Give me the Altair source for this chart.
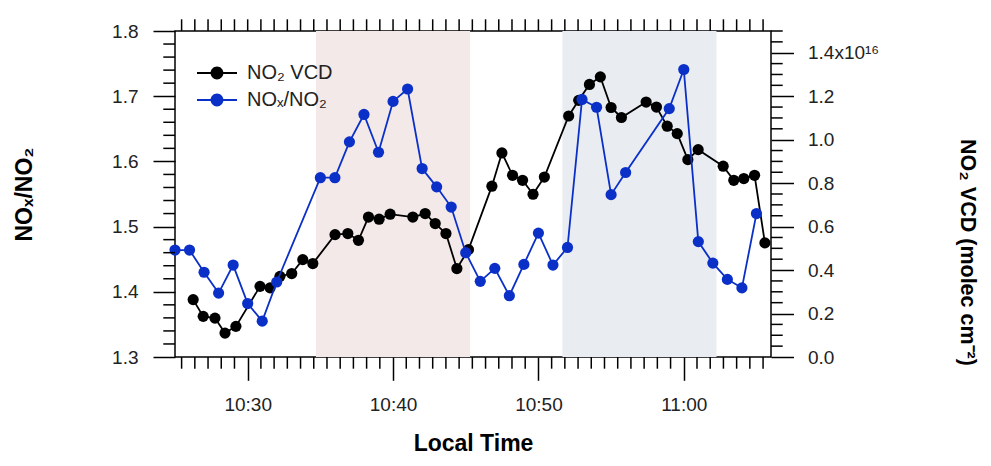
import altair as alt
import pandas as pd

# ---------------- data (time = minutes after 10:00 local time) ----------------
ratio_minutes = [25, 26, 27, 28, 29, 30, 31, 32,
                 35, 36, 37, 38, 39, 40, 41, 42, 43, 44, 45, 46, 47,
                 48, 49, 50, 51, 52, 53, 54, 55, 56,
                 59, 60, 61, 62, 63, 64, 65]
ratio_values = [1.464, 1.464, 1.430, 1.398, 1.441, 1.382, 1.355, 1.415,
                1.575, 1.575, 1.630, 1.672, 1.614, 1.692, 1.711, 1.589, 1.561, 1.530, 1.460, 1.416, 1.436,
                1.394, 1.442, 1.490, 1.441, 1.468, 1.695, 1.683, 1.549, 1.583,
                1.681, 1.741, 1.477, 1.444, 1.419, 1.406, 1.520]

vcd_minutes = [26.25, 26.94, 27.75, 28.44, 29.19,
               30.85, 31.54, 32.22, 33.03, 33.79, 34.48,
               36.01, 36.89, 37.62, 38.31, 39.04, 39.80,
               41.36, 42.21, 42.90, 43.64, 44.39, 45.19,
               46.80, 47.49, 48.22, 48.91, 49.63, 50.41,
               52.08, 52.77, 53.51, 54.26, 55.00, 55.71,
               57.41, 58.12, 58.86, 59.55, 60.28, 60.99,
               62.71, 63.44, 64.13, 64.87, 65.58]
# NO2 VCD in units of 1e16 molec cm^-2
vcd_values = [0.264, 0.187, 0.179, 0.110, 0.141,
              0.325, 0.318, 0.371, 0.384, 0.448, 0.430,
              0.563, 0.568, 0.537, 0.644, 0.634, 0.657,
              0.644, 0.660, 0.614, 0.568, 0.407, 0.494,
              0.786, 0.939, 0.836, 0.813, 0.749, 0.828,
              1.109, 1.181, 1.254, 1.289, 1.148, 1.102,
              1.173, 1.150, 1.062, 1.028, 0.908, 0.954,
              0.878, 0.813, 0.821, 0.836, 0.525]

period_names = ["first", "second"]
period_starts = [34.7, 51.65]
period_ends = [45.3, 62.25]

series_names = ["NO\u2082 VCD", "NO\u2093/NO\u2082"]
x_major = [30, 40, 50, 60]
ratio_major = [1.3, 1.4, 1.5, 1.6, 1.7, 1.8]
vcd_major = [0.0, 0.2, 0.4, 0.6, 0.8, 1.0, 1.2, 1.4]

# ---------------- frames ----------------
ratio_df = pd.DataFrame({"t": ratio_minutes, "v": ratio_values, "series": series_names[1]})
vcd_df = pd.DataFrame({"t": vcd_minutes, "v": vcd_values, "series": series_names[0]})
period_df = pd.DataFrame({"period": period_names, "t": period_starts, "end": period_ends})

x_minor = [30 + k * 10 / 11 for k in range(-5, 40) if k % 11 != 0]
x_top = [30 + k * 10 / 11 for k in range(-5, 40)]
ratio_minor = [round(1.3 + 0.02 * k, 2) for k in range(1, 25) if k % 5 != 0]
vcd_minor = [round(0.05 * k, 2) for k in range(0, 31) if k % 4 != 0]

xminor_df = pd.DataFrame({"t": x_minor})
xtop_df = pd.DataFrame({"t": x_top})
rminor_df = pd.DataFrame({"v": ratio_minor})
vminor_df = pd.DataFrame({"v": vcd_minor})

W, H = 596, 326
FONT = "Liberation Sans"
BLACK = "#000000"
BLUE = "#0b30c8"
TICK_W = 1.5
MINOR = 11.7

xscale = alt.Scale(domain=[25, 66], nice=False, zero=False)
rscale = alt.Scale(domain=[1.3, 1.8], nice=False, zero=False)
vscale = alt.Scale(domain=[0, 1.5], nice=False, zero=False)
cscale = alt.Scale(domain=series_names, range=[BLACK, BLUE])

# legend glyph: a short line with a filled dot (unit = sqrt(symbolSize)/2 px)
LEGEND_PATH = ("M-2,-0.1L2,-0.1L2,0.1L-2,0.1Z"
               "M0.64,0A0.64,0.64,0,1,1,-0.64,0A0.64,0.64,0,1,1,0.64,0Z")

x_axis = alt.Axis(
    values=x_major,
    labelExpr="datum.value < 60 ? '10:' + datum.value : '11:00'",
    tickSize=23.3, tickWidth=TICK_W, tickColor=BLACK,
    labelPadding=15, labelFontSize=19, labelColor="#222", labelFont=FONT,
    title="Local Time", titleFontSize=23, titleFontWeight="bold", titleFont=FONT,
    titleX=W / 2, titleY=86, titleAlign="center", titleBaseline="middle", titleColor=BLACK,
    domain=False, grid=False,
)

ratio_axis = alt.Axis(
    orient="left", values=ratio_major, format=".1f",
    tickSize=22, tickWidth=TICK_W, tickColor=BLACK,
    labelPadding=15, labelFontSize=19, labelColor="#222", labelFont=FONT,
    title="NO\u2093/NO\u2082", titleFontSize=23, titleFontWeight="bold", titleFont=FONT,
    titleAngle=270, titleX=-151, titleY=H / 2, titleAlign="center", titleBaseline="middle",
    titleColor=BLACK, domain=False, grid=False,
)

vcd_axis = alt.Axis(
    orient="right", values=vcd_major,
    labelExpr="datum.value > 1.35 ? '1.4x10\u00b9\u2076' : format(datum.value, '.1f')",
    tickSize=22.5, tickWidth=TICK_W, tickColor=BLACK,
    labelPadding=14, labelFontSize=19, labelColor="#222", labelFont=FONT,
    title="NO\u2082 VCD (molec cm\u207b\u00b2)", titleFontSize=21.5, titleFontWeight="bold", titleFont=FONT,
    titleAngle=90, titleX=195, titleY=221, titleAlign="center", titleBaseline="middle",
    titleColor=BLACK, domain=False, grid=False,
)

legend = alt.Legend(
    orient="none", legendX=32, legendY=32, title=None,
    symbolType=LEGEND_PATH, symbolSize=400, symbolStrokeWidth=0, symbolOpacity=1,
    labelFontSize=20, labelFont=FONT, labelColor="#222", labelOffset=20,
    rowPadding=7, padding=0,
)

X = alt.X("t:Q", scale=xscale, axis=x_axis)
Y_VCD = alt.Y("v:Q", scale=vscale, axis=vcd_axis)
Y_RATIO = alt.Y("v:Q", scale=rscale, axis=ratio_axis)
C = alt.Color("series:N", scale=cscale, legend=legend)

# ---------------- right (VCD) group ----------------
shade = alt.Chart(period_df).mark_rect(opacity=1).encode(
    x=X, x2="end:Q",
    y=alt.value(0), y2=alt.value(H),
    fill=alt.Fill("period:N", scale=alt.Scale(domain=period_names, range=["#f3e9e8", "#e9ecf1"]), legend=None),
)
vcd_line = alt.Chart(vcd_df).mark_line(strokeWidth=1.8).encode(x=X, y=Y_VCD, color=C)
vcd_pts = alt.Chart(vcd_df).mark_point(filled=True, size=125, opacity=1).encode(x=X, y=Y_VCD, color=C)
vcd_minor_ticks = alt.Chart(vminor_df).mark_rule(color=BLACK, strokeWidth=TICK_W).encode(
    y=Y_VCD, x=alt.value(W), x2=alt.value(W + MINOR),
)
right_group = alt.layer(shade, vcd_line, vcd_pts, vcd_minor_ticks)

# ---------------- left (ratio) group ----------------
ratio_line = alt.Chart(ratio_df).mark_line(strokeWidth=1.8).encode(x=X, y=Y_RATIO, color=C)
ratio_pts = alt.Chart(ratio_df).mark_point(filled=True, size=125, opacity=1).encode(x=X, y=Y_RATIO, color=C)
ratio_minor_ticks = alt.Chart(rminor_df).mark_rule(color=BLACK, strokeWidth=TICK_W).encode(
    y=Y_RATIO, x=alt.value(-MINOR), x2=alt.value(0),
)
x_minor_ticks = alt.Chart(xminor_df).mark_rule(color=BLACK, strokeWidth=TICK_W).encode(
    x=X, y=alt.value(H), y2=alt.value(H + MINOR),
)
x_top_ticks = alt.Chart(xtop_df).mark_rule(color=BLACK, strokeWidth=TICK_W).encode(
    x=X, y=alt.value(-MINOR), y2=alt.value(0),
)
left_group = alt.layer(ratio_line, ratio_pts, ratio_minor_ticks, x_minor_ticks, x_top_ticks)

chart = alt.layer(right_group, left_group).resolve_scale(
    y="independent"
).properties(
    width=W, height=H,
    autosize=alt.AutoSizeParams(type="none"),
    padding={"left": 167, "top": 23, "right": 212, "bottom": 98},
    background="white",
).configure_view(
    stroke=BLACK, strokeWidth=1.5,
)

chart.save("out.html", embed_options={"renderer": "svg", "actions": False})
